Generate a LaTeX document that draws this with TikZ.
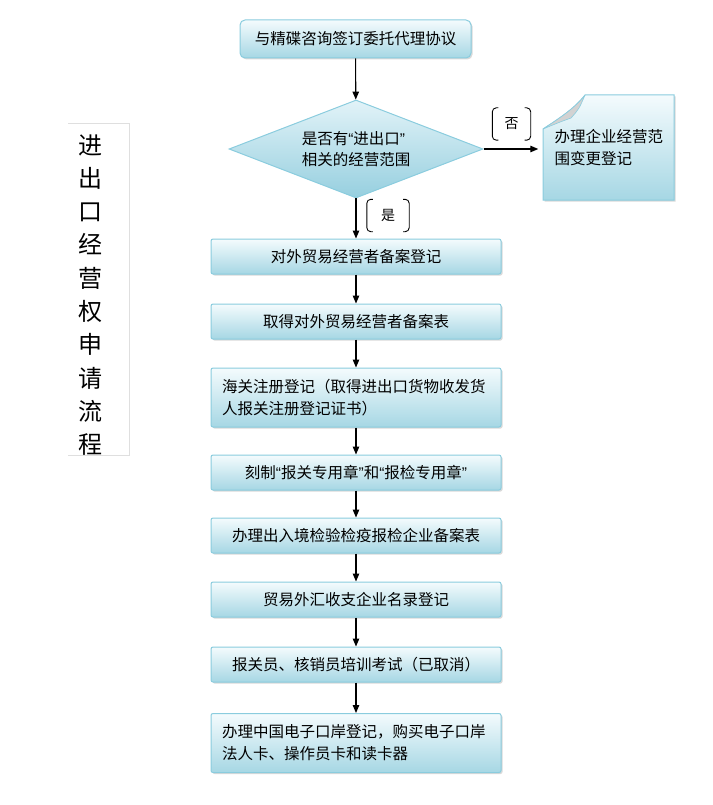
\documentclass[tikz,border=0pt]{standalone}
\usepackage{fontspec}
\setmainfont{Noto Sans CJK SC}
\newfontfamily\quotefont{Liberation Sans}
\usetikzlibrary{shadows}
\usetikzlibrary{arrows.meta,shapes.geometric}
\usetikzlibrary{calc}

\definecolor{boxtop}{RGB}{244,251,253}
\definecolor{boxbot}{RGB}{166,215,228}
\definecolor{boxline}{RGB}{138,204,222}

\newcommand{\openq}{{\quotefont “}}
\newcommand{\closeq}{{\quotefont ”}}
\newcommand{\tagbrackets}[1]{%
  \draw[line width=0.9pt, rounded corners=4pt] ([xshift=6pt]#1.north west) -- (#1.north west) -- (#1.south west) -- ([xshift=6pt]#1.south west);
  \draw[line width=0.9pt, rounded corners=4pt] ([xshift=-6pt]#1.north east) -- (#1.north east) -- (#1.south east) -- ([xshift=-6pt]#1.south east);}

\begin{document}
\begin{tikzpicture}[x=1pt, y=-1pt,
  box/.style={rectangle, rounded corners=2pt, draw=boxline, line width=1pt,
    top color=boxtop, bottom color=boxbot,
    drop shadow={shadow xshift=1.5pt, shadow yshift=-1.5pt, opacity=0.3},
    minimum width=290pt, minimum height=35pt, inner sep=0pt,
    font=\fontsize{15.5}{22}\selectfont},
  twoline/.style={box, minimum height=59pt, text width=268pt, align=left},
  flow/.style={-{Triangle[length=8pt,width=6.5pt]}, line width=1.1pt},
  tag/.style={minimum width=38pt, minimum height=32pt, inner sep=0pt,
    font=\fontsize{14}{16}\selectfont}]

\useasboundingbox (0,0) rectangle (712,805);

% title on the left
\draw[gray!25] (68,123) -- (129,123) -- (129,455) -- (68,455);
\node[font=\fontsize{24}{33.3}\selectfont, align=center] (title) at (90,295)
  {进\\出\\口\\经\\营\\权\\申\\请\\流\\程};

\node[box, minimum width=231pt, minimum height=38pt, rounded corners=5pt] (sign) at (355.5,39) {与精碟咨询签订委托代理协议};

\node[diamond, aspect=2.6, draw=boxline, line width=1pt,
  top color={rgb,255:red,226;green,243;blue,248}, bottom color={rgb,255:red,150;green,207;blue,223},
  minimum width=254pt, minimum height=98pt, inner sep=0pt, align=left,
  font=\fontsize{15.5}{21}\selectfont] (scope) at (356,149) {是否有\openq 进出口\closeq\\相关的经营范围};

% folded note on the right
\path[draw=boxline, line width=1pt, top color=boxtop, bottom color=boxbot,
  drop shadow={shadow xshift=1.5pt, shadow yshift=-1.5pt, opacity=0.3}]
  (585,95) -- (674,95) -- (674,200) -- (543,200) -- (543,129)
  .. controls (560,118) and (575,108) .. (585,95) -- cycle;
\path[fill=gray!35, draw=boxline, line width=0.6pt]
  (585,95) .. controls (579,109) .. (571,118) .. controls (560,122) .. (543,129)
  .. controls (560,118) and (575,108) .. (585,95);
\node[minimum width=131pt, minimum height=105pt, inner sep=0pt, text width=109pt, align=left,
  font=\fontsize{15.5}{22}\selectfont] (note) at (609,148) {办理企业经营范\\围变更登记};

\node[tag] (no) at (511.5,124) {否};
\tagbrackets{no}
\node[tag, minimum width=42pt] (yes) at (388,215.5) {是};
\tagbrackets{yes}

\node[box] (reg) at (356,256.5) {对外贸易经营者备案登记};
\node[box] (form) at (356,321.5) {取得对外贸易经营者备案表};
\node[twoline] (customs) at (356,397.5) {海关注册登记（取得进出口货物收发货\\人报关注册登记证书）};
\node[box] (seal) at (356,472.5) {刻制\openq 报关专用章\closeq 和\openq 报检专用章\closeq};
\node[box] (cert) at (356,535.5) {办理出入境检验检疫报检企业备案表};
\node[box] (forex) at (356,599.5) {贸易外汇收支企业名录登记};
\node[box] (exam) at (356,664.5) {报关员、核销员培训考试（已取消）};
\node[twoline] (port) at (356,743) {办理中国电子口岸登记，购买电子口岸\\法人卡、操作员卡和读卡器};

\draw[flow] (sign) -- (scope);
\draw[flow, shorten >=5pt] (scope.east) -- (scope.east -| note.west);
\draw[flow] (scope) -- (reg);
\draw[flow] (reg) -- (form);
\draw[flow] (form) -- (customs);
\draw[flow] (customs) -- (seal);
\draw[flow] (seal) -- (cert);
\draw[flow] (cert) -- (forex);
\draw[flow] (forex) -- (exam);
\draw[flow] (exam) -- (port);

\end{tikzpicture}
\end{document}
